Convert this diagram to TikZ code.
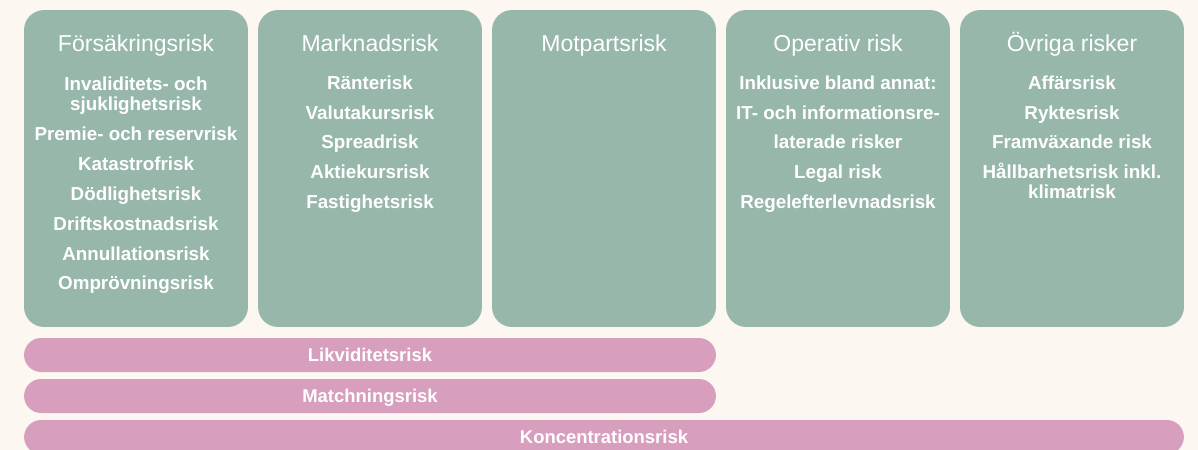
\documentclass[tikz,border=0pt]{standalone}
\usepackage{fontspec}
\setmainfont{Liberation Sans}
\usetikzlibrary{positioning}

\definecolor{riskgreen}{HTML}{97B7AB}
\definecolor{riskpink}{HTML}{D89EBE}
\definecolor{riskbg}{HTML}{FDF7F1}

\tikzset{
  riskbox/.style={fill=riskgreen, rounded corners=0.4cm, minimum width=4.48cm, minimum height=6.34cm, inner sep=0pt},
  riskbar/.style={fill=riskpink, rounded corners=0.34cm, minimum height=0.68cm, inner sep=0pt, text height=7.6pt, text depth=0pt, text=white, font=\bfseries\fontsize{10.5}{11.3}\selectfont},
  boxtitle/.style={anchor=base, text=white, font=\fontsize{13.1}{15}\selectfont},
  boxitem/.style={anchor=base, text=white, align=center, font=\bfseries\fontsize{10.7}{11.3}\selectfont}
}

\begin{document}
\begin{tikzpicture}[x=0.02cm, y=-0.02cm]

% Background
\fill[riskbg] (0,0) rectangle (1198,450);
\useasboundingbox (0,0) rectangle (1198,450);

% Main boxes
\node[riskbox] (fors) at (136,168.5) {};
\node[riskbox] (mark) at (370,168.5) {};
\node[riskbox] (motp) at (604,168.5) {};
\node[riskbox] (oper) at (838,168.5) {};
\node[riskbox] (ovri) at (1072,168.5) {};

% Titles
\node[boxtitle] (forsT) at (136,51.5) {Försäkringsrisk};
\node[boxtitle] (markT) at (370,51.5) {Marknadsrisk};
\node[boxtitle] (motpT) at (604,51.5) {Motpartsrisk};
\node[boxtitle] (operT) at (838,51.5) {Operativ risk};
\node[boxtitle] (ovriT) at (1072,51.5) {Övriga risker};

% Försäkringsrisk (two-line nodes sit on their last line)
\node[boxitem] (fors1) at (136,110.5) {Invaliditets- och\\sjuklighetsrisk};
\node[boxitem] (fors2) at (136,140) {Premie- och reservrisk};
\node[boxitem] (fors3) at (136,170) {Katastrofrisk};
\node[boxitem] (fors4) at (136,200) {Dödlighetsrisk};
\node[boxitem] (fors5) at (136,230) {Driftskostnadsrisk};
\node[boxitem] (fors6) at (136,260) {Annullationsrisk};
\node[boxitem] (fors7) at (136,289) {Omprövningsrisk};

% Marknadsrisk
\node[boxitem] (mark1) at (370,89.5) {Ränterisk};
\node[boxitem] (mark2) at (370,119) {Valutakursrisk};
\node[boxitem] (mark3) at (370,148) {Spreadrisk};
\node[boxitem] (mark4) at (370,178) {Aktiekursrisk};
\node[boxitem] (mark5) at (370,208) {Fastighetsrisk};

% Operativ risk
\node[boxitem] (oper1) at (838,89.5) {Inklusive bland annat:};
\node[boxitem] (oper2) at (838,119) {IT- och informationsre-};
\node[boxitem] (oper3) at (838,148) {laterade risker};
\node[boxitem] (oper4) at (838,178) {Legal risk};
\node[boxitem] (oper5) at (838,208) {Regelefterlevnadsrisk};

% Övriga risker
\node[boxitem] (ovri1) at (1072,89.5) {Affärsrisk};
\node[boxitem] (ovri2) at (1072,119) {Ryktesrisk};
\node[boxitem] (ovri3) at (1072,148) {Framväxande risk};
\node[boxitem] (ovri4) at (1072,198.5) {Hållbarhetsrisk inkl.\\klimatrisk};

% Bars
\node[riskbar, minimum width=13.84cm] (likv) at (370,355) {Likviditetsrisk};
\node[riskbar, minimum width=13.84cm] (matc) at (370,396) {Matchningsrisk};
\node[riskbar, minimum width=23.2cm] (konc) at (604,437) {Koncentrationsrisk};

\end{tikzpicture}
\end{document}
